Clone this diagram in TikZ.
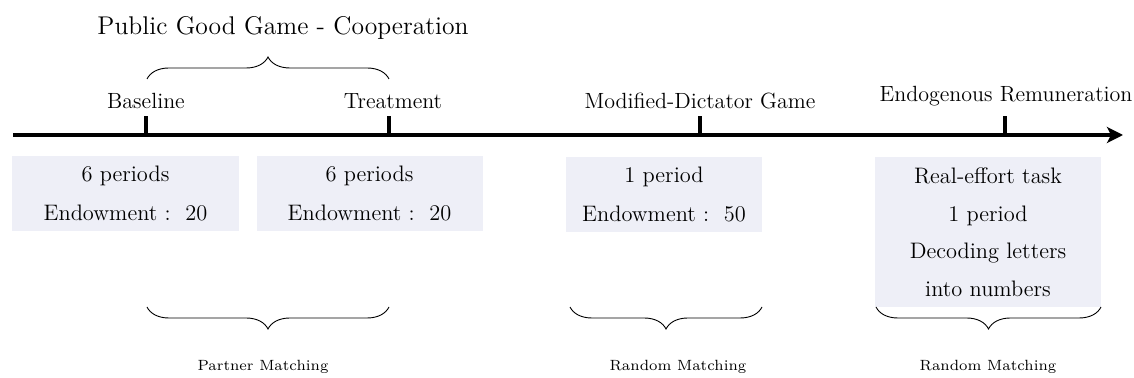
\documentclass[tikz,border=0pt]{standalone}
\usetikzlibrary{arrows.meta,decorations.pathreplacing}
\definecolor{boxfill}{HTML}{EEEFF7}
\begin{document}
\begin{tikzpicture}[x={(0.5pt,0)},y={(0,-0.5pt)},
  lbl/.style={font=\fontsize{11}{13}\selectfont, inner sep=0pt},
  ttl/.style={font=\fontsize{12.8}{15}\selectfont, inner sep=0pt},
  small/.style={font=\fontsize{7.4}{9}\selectfont, inner sep=0pt},
  infobox/.style={fill=boxfill, inner sep=0pt, align=center, font=\fontsize{11.2}{19.5}\selectfont},
  tick/.style={line width=2pt},
  axis/.style={line width=2pt, -{Stealth[length=8pt,width=8pt,inset=2pt]}},
  brc/.style={decorate, decoration={brace, amplitude=11pt}, line width=0.45pt},
  brcdown/.style={decorate, decoration={brace, mirror, amplitude=11pt}, line width=0.45pt}]
\useasboundingbox (0,0) rectangle (1134,378);

% axis
\coordinate (axL) at (13,135);
\coordinate (axR) at (1123,135);
\draw[axis] (axL) -- (axR);

% ticks
\coordinate (t1) at (146,135); \coordinate (t1u) at (146,116);
\coordinate (t2) at (389,135); \coordinate (t2u) at (389,116);
\coordinate (t3) at (700,135); \coordinate (t3u) at (700,116);
\coordinate (t4) at (1005,135); \coordinate (t4u) at (1005,116);
\draw[tick] (t1) -- (t1u);
\draw[tick] (t2) -- (t2u);
\draw[tick] (t3) -- (t3u);
\draw[tick] (t4) -- (t4u);

% top labels
\node[lbl] (base) at (146,101) {Baseline};
\node[lbl] (treat) at (393,101) {Treatment};
\node[lbl] (mdg) at (700,101) {Modified-Dictator Game};
\node[lbl] (endo) at (1006,96) {Endogenous Remuneration};

% title and brace
\node[ttl] (title) at (283,28) {Public Good Game - Cooperation};
\coordinate (tb1) at (147,79);
\coordinate (tb2) at (389,79);
\draw[brc] (tb1) -- (tb2);

% boxes
\node[infobox, minimum width=113.5pt, minimum height=37.5pt] (b1) at (125.5,193.5) {6 periods\\Endowment :\ \ 20};
\node[infobox, minimum width=113pt, minimum height=37.5pt] (b2) at (369.5,193.5) {6 periods\\Endowment :\ \ 20};
\node[infobox, minimum width=98pt, minimum height=37.5pt] (b3) at (664,194.5) {1 period\\Endowment :\ \ 50};
\node[infobox, minimum width=113pt, minimum height=75pt, font=\fontsize{11.2}{18.75}\selectfont] (b4) at (988,232) {Real-effort task\\1 period\\Decoding letters\\into numbers};

% bottom braces
\coordinate (bb1a) at (147,307); \coordinate (bb1b) at (389,307);
\coordinate (bb2a) at (570,307); \coordinate (bb2b) at (762,307);
\coordinate (bb3a) at (876,307); \coordinate (bb3b) at (1101,307);
\draw[brcdown] (bb1a) -- (bb1b);
\draw[brcdown] (bb2a) -- (bb2b);
\draw[brcdown] (bb3a) -- (bb3b);

% bottom labels
\node[small] (pm) at (263,367) {Partner Matching};
\node[small] (rm1) at (678,367) {Random Matching};
\node[small] (rm2) at (988,367) {Random Matching};
\end{tikzpicture}
\end{document}
